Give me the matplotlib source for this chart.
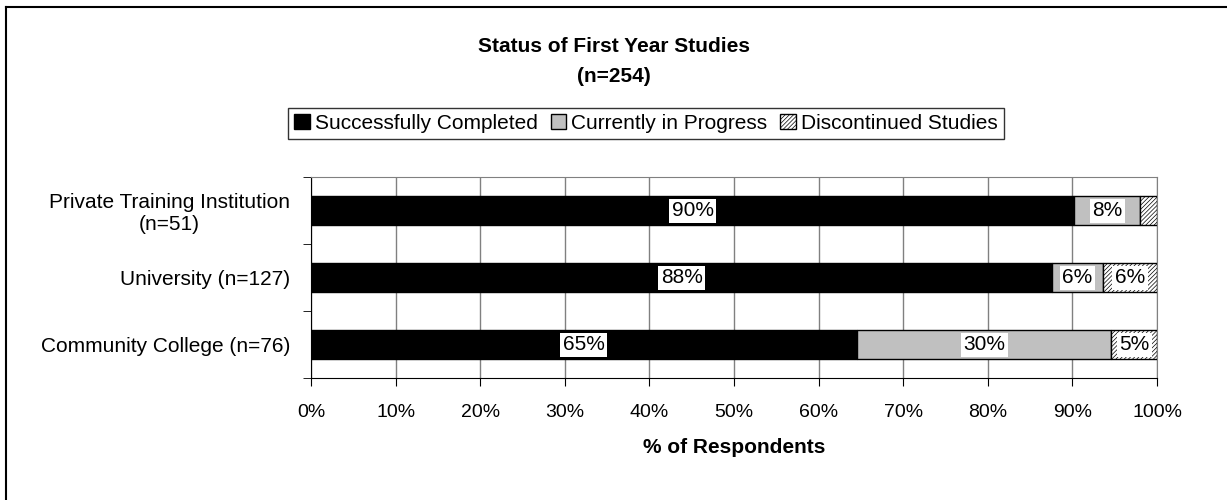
import matplotlib
matplotlib.use("Agg")
import matplotlib.pyplot as plt
import numpy as np

plt.rcParams['font.family'] = ['Liberation Sans', 'DejaVu Sans']
plt.rcParams['hatch.linewidth'] = 0.5

categories = ["Community College (n=76)", "University (n=127)", "Private Training Institution\n(n=51)"]
completed = [64.5, 87.6, 90.2]
in_progress = [30.1, 6.0, 7.8]
discontinued = [5.4, 6.4, 2.0]
labels_completed = ["65%", "88%", "90%"]
labels_progress = ["30%", "6%", "8%"]
labels_discont = ["5%", "6%", ""]
series_names = ["Successfully Completed", "Currently in Progress", "Discontinued Studies"]
xticks = [0, 10, 20, 30, 40, 50, 60, 70, 80, 90, 100]

fig = plt.figure(figsize=(12.27, 5.0), dpi=100)
ax = fig.add_axes([0.2535, 0.244, 0.6895, 0.402])

y = np.arange(len(categories))
h = 0.44
c = np.array(completed)
p = np.array(in_progress)
d = np.array(discontinued)

b1 = ax.barh(y, c, height=h, color='black', edgecolor='black', linewidth=1, zorder=3, label=series_names[0])
b2 = ax.barh(y, p, left=c, height=h, color='#c0c0c0', edgecolor='black', linewidth=1, zorder=3, label=series_names[1])
b3 = ax.barh(y, d, left=c + p, height=h, color='white', edgecolor='black', linewidth=1, hatch='////////', zorder=3, label=series_names[2])

bbox = dict(boxstyle='square,pad=0.12', facecolor='white', edgecolor='none')
for i in range(len(categories)):
    for left, w, lab in [(0, c[i], labels_completed[i]), (c[i], p[i], labels_progress[i]), (c[i] + p[i], d[i], labels_discont[i])]:
        if lab:
            ax.text(left + w / 2, y[i], lab, ha='center', va='center', fontsize=15, color='black', bbox=bbox, zorder=5)

ax.set_xlim(0, 100)
ax.set_ylim(-0.5, 2.5)
ax.set_xticks(xticks)
ax.set_xticklabels([f"{t}%" for t in xticks], fontsize=14)
ax.set_yticks(y)
ax.set_yticklabels(categories, fontsize=15, multialignment='center')
ax.set_yticks([-0.5, 0.5, 1.5, 2.5], minor=True)
ax.tick_params(axis='y', which='major', length=0, pad=15)
ax.tick_params(axis='y', which='minor', length=6, direction='out', color='black')
ax.tick_params(axis='x', which='major', length=6, direction='out', color='black', pad=13)
ax.xaxis.grid(True, color='#808080', linewidth=1, zorder=0)
ax.set_axisbelow(True)
for s in ['top', 'right']:
    ax.spines[s].set_color('#808080')
ax.spines['left'].set_color('black')
ax.spines['bottom'].set_color('black')
ax.set_xlabel("% of Respondents", fontsize=15, fontweight='bold', labelpad=12)

fig.text(0.5, 1 - 47 / 500, "Status of First Year Studies", ha='center', va='center', fontsize=15, fontweight='bold')
fig.text(0.5, 1 - 77 / 500, "(n=254)", ha='center', va='center', fontsize=15, fontweight='bold')

leg = fig.legend(handles=[b1, b2, b3], loc='center', bbox_to_anchor=(646 / 1227, 1 - 123.5 / 500), ncol=3, fontsize=15,
                 frameon=True, fancybox=False, edgecolor='black', handlelength=0.75, handleheight=0.7,
                 handletextpad=0.25, columnspacing=0.6, borderpad=0.3, borderaxespad=0)
leg.get_frame().set_linewidth(1)

# outer chart border (top and left visible)
fig.add_artist(plt.Line2D([6 / 1227, 1.0], [1 - 7 / 500, 1 - 7 / 500], color='black', linewidth=1.5, transform=fig.transFigure))
fig.add_artist(plt.Line2D([6 / 1227, 6 / 1227], [0, 1 - 7 / 500], color='black', linewidth=1.5, transform=fig.transFigure))

fig.savefig("out.png", dpi=100)
